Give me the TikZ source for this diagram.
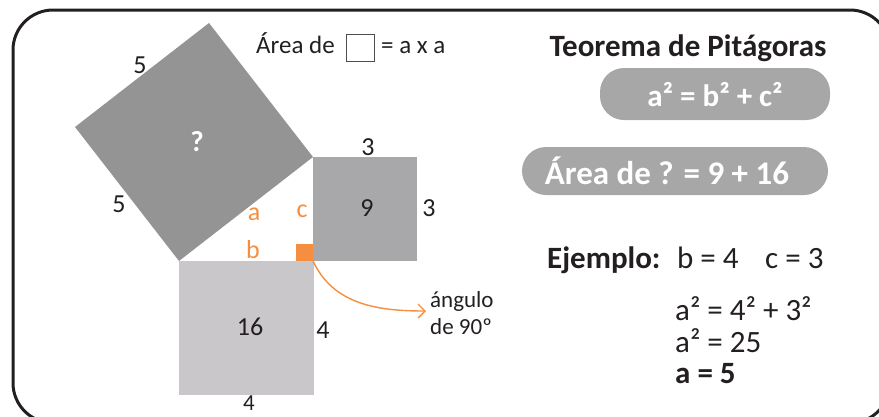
\documentclass[tikz,border=0pt]{standalone}
\usepackage{fontspec}
\setmainfont{Carlito}
\usetikzlibrary{arrows.meta}
\definecolor{ink}{HTML}{231F20}
\definecolor{hypc}{HTML}{949495}
\definecolor{sqc}{HTML}{A8A8AA}
\definecolor{sqb}{HTML}{C9C7CA}
\definecolor{orng}{HTML}{F58F3F}
\definecolor{pillc}{HTML}{A7A7A7}
\begin{document}
\begin{tikzpicture}[x=1pt,y=-1pt,
  lbl/.style={text=ink, inner sep=0pt, anchor=base, font=\fontsize{26}{30}\selectfont},
  olbl/.style={lbl, text=orng},
  txt/.style={lbl, anchor=base west},
  big/.style={font=\fontsize{31}{36}\selectfont},
  bigb/.style={font=\fontsize{31}{36}\selectfont\bfseries},
  pillbox/.style={fill=pillc, rounded corners=24pt, inner sep=0pt},
  pilltxt/.style={text=white, inner sep=0pt, anchor=base, font=\fontsize{31}{36}\selectfont\bfseries}]
\useasboundingbox (0,0) rectangle (879,416);
% frame
\begin{scope}
\clip (0,0) rectangle (879,416);
\draw[line width=3pt, ink, rounded corners=40pt] (13,10) rectangle (890,423);
\end{scope}
% triangle vertices
\coordinate (B) at (179,261);
\coordinate (C) at (313,157);
\coordinate (R) at (313,261);
% hypotenuse square
\fill[hypc] (B) -- (C) -- (209,23) -- (75,127) -- cycle;
% c square
\fill[sqc] (313,157) rectangle (417,261);
% b square
\fill[sqb] (179,261) rectangle (314,395);
% right angle mark
\fill[orng] (296,244) rectangle (313,261);
% labels
\node[lbl] (l5a) at (140,73) {5};
\node[lbl] (l5b) at (119,212) {5};
\node[lbl, text=white, font=\fontsize{29}{32}\selectfont\bfseries] (lq) at (197,151) {?};
\node[lbl] (l3a) at (368,155) {3};
\node[lbl] (l9) at (367,216) {9};
\node[lbl] (l3b) at (429,216) {3};
\node[olbl] (la) at (254,220) {a};
\node[olbl] (lc) at (302,217) {c};
\node[olbl] (lb) at (253,258) {b};
\node[lbl] (l16) at (250,335) {16};
\node[lbl] (l4a) at (323,338) {4};
\node[lbl, font=\fontsize{23}{27}\selectfont] (l4b) at (249,410) {4};
% area formula
\node[txt, font=\fontsize{25}{30}\selectfont] (area) at (256,53) {Área de};
\draw[ink!80, line width=0.8pt] (346,34) rectangle (374,61);
\node[txt, font=\fontsize{25}{30}\selectfont] (axa) at (381,53) {= a x a};
% right side
\node[lbl, bigb] (title) at (688,56) {Teorema de Pitágoras};
\fill[pillbox] (600,68) rectangle (830,120);
\node[pilltxt] (f1) at (715,106) {a² = b² + c²};
\fill[pillbox] (522,147) rectangle (828,195);
\node[pilltxt, font=\fontsize{33}{38}\selectfont\bfseries] (f2) at (667,184) {Área de ? = 9 + 16};
\node[txt, bigb] (ej) at (547,268) {Ejemplo:};
\node[txt, big] (eb) at (677,268) {b = 4};
\node[txt, big] (ec) at (765,268) {c = 3};
\node[txt, big] (e1) at (675,320) {a² = 4² + 3²};
\node[txt, big] (e2) at (675,352) {a² = 25};
\node[txt, bigb] (e3) at (675,383) {a = 5};
% angle note
\node[txt, font=\fontsize{23}{27}\selectfont] (ang1) at (430,307) {ángulo};
\node[txt, font=\fontsize{23}{27}\selectfont] (ang2) at (430,334) {de 90º};
\coordinate (tip) at (426,311);
\draw[orng, line width=1.4pt, -{Straight Barb[length=7pt,width=14pt]}] (R) to[out=-65, in=180] (tip);
\end{tikzpicture}
\end{document}
